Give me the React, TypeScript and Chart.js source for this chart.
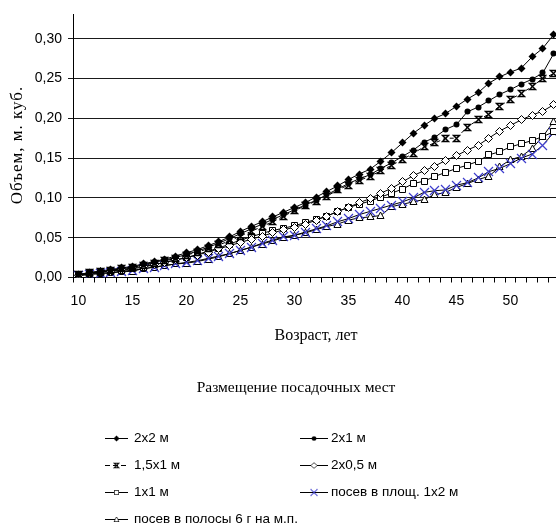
import React, { useEffect, useRef } from 'react';
import { Chart, registerables } from 'chart.js';

Chart.register(...registerables);

// ---- data ----
const years = [10, 11, 12, 13, 14, 15, 16, 17, 18, 19, 20, 21, 22, 23, 24, 25, 26, 27, 28, 29, 30, 31, 32, 33, 34, 35, 36, 37, 38, 39, 40, 41, 42, 43, 44, 45, 46, 47, 48, 49, 50, 51, 52, 53, 54];

const s2x2 = [0.004, 0.006, 0.008, 0.010, 0.012, 0.014, 0.017, 0.020, 0.023, 0.027, 0.031, 0.035, 0.040, 0.045, 0.051, 0.058, 0.064, 0.070, 0.076, 0.082, 0.088, 0.094, 0.101, 0.108, 0.115, 0.123, 0.130, 0.136, 0.146, 0.157, 0.169, 0.181, 0.191, 0.200, 0.206, 0.215, 0.224, 0.232, 0.244, 0.252, 0.258, 0.263, 0.277, 0.288, 0.305];
const s2x1 = [0.004, 0.005, 0.007, 0.009, 0.011, 0.013, 0.016, 0.019, 0.022, 0.025, 0.029, 0.033, 0.038, 0.043, 0.049, 0.055, 0.061, 0.067, 0.073, 0.079, 0.085, 0.091, 0.097, 0.104, 0.111, 0.118, 0.124, 0.129, 0.137, 0.144, 0.152, 0.160, 0.170, 0.176, 0.186, 0.192, 0.208, 0.214, 0.222, 0.230, 0.236, 0.243, 0.249, 0.257, 0.281];
const s15x1 = [0.004, 0.006, 0.008, 0.009, 0.011, 0.013, 0.015, 0.018, 0.021, 0.024, 0.028, 0.032, 0.036, 0.041, 0.046, 0.052, 0.058, 0.064, 0.070, 0.077, 0.084, 0.090, 0.096, 0.102, 0.110, 0.116, 0.122, 0.127, 0.134, 0.141, 0.148, 0.156, 0.164, 0.169, 0.175, 0.175, 0.189, 0.198, 0.205, 0.215, 0.224, 0.231, 0.240, 0.250, 0.256];
const s2x05 = [0.003, 0.005, 0.007, 0.008, 0.010, 0.012, 0.014, 0.016, 0.019, 0.022, 0.025, 0.028, 0.032, 0.036, 0.040, 0.044, 0.048, 0.052, 0.056, 0.060, 0.063, 0.067, 0.072, 0.077, 0.083, 0.088, 0.094, 0.099, 0.106, 0.112, 0.120, 0.128, 0.134, 0.140, 0.147, 0.153, 0.160, 0.166, 0.175, 0.184, 0.191, 0.198, 0.204, 0.209, 0.217];
const s1x1 = [0.003, 0.005, 0.006, 0.008, 0.009, 0.011, 0.013, 0.016, 0.019, 0.022, 0.025, 0.029, 0.033, 0.037, 0.042, 0.047, 0.051, 0.0555, 0.059, 0.062, 0.065, 0.069, 0.073, 0.077, 0.083, 0.088, 0.092, 0.096, 0.101, 0.106, 0.111, 0.118, 0.121, 0.127, 0.132, 0.137, 0.141, 0.146, 0.154, 0.158, 0.164, 0.168, 0.172, 0.177, 0.183];
const sPlot1x2 = [0.002, 0.004, 0.005, 0.006, 0.008, 0.009, 0.011, 0.013, 0.015, 0.017, 0.019, 0.021, 0.024, 0.027, 0.030, 0.034, 0.038, 0.043, 0.047, 0.051, 0.053, 0.057, 0.061, 0.065, 0.070, 0.074, 0.079, 0.083, 0.087, 0.091, 0.095, 0.100, 0.107, 0.109, 0.110, 0.116, 0.119, 0.125, 0.133, 0.137, 0.143, 0.150, 0.155, 0.166, 0.182];
const sStrip6g = [0.003, 0.004, 0.005, 0.006, 0.007, 0.008, 0.011, 0.013, 0.015, 0.017, 0.018, 0.020, 0.023, 0.026, 0.030, 0.034, 0.038, 0.042, 0.046, 0.050, 0.053, 0.056, 0.060, 0.064, 0.067, 0.072, 0.075, 0.076, 0.078, 0.089, 0.092, 0.095, 0.098, 0.104, 0.107, 0.113, 0.118, 0.123, 0.127, 0.139, 0.148, 0.152, 0.162, 0.177, 0.196];

const seriesLabels = ['2x2 м', '2x1 м', '1,5x1 м', '2x0,5 м', '1x1 м', 'посев в площ. 1x2 м', 'посев в полосы 6 г на м.п.'];
const yTitle = 'Объем, м. куб.';
const xTitle = 'Возраст, лет';
const legendTitle = 'Размещение посадочных мест';

const SANS = '"Liberation Sans", Arial, sans-serif';
const SERIF = '"Liberation Serif", "Times New Roman", serif';
const BLUE = '#3d3dcc';

// legend slot layout
const legendSlots = [
  { x: 105, y: 438, len: 23, tx: 134 },
  { x: 300, y: 438, len: 28, tx: 331 },
  { x: 105, y: 465, len: 23, tx: 134 },
  { x: 300, y: 465, len: 28, tx: 331 },
  { x: 105, y: 492, len: 23, tx: 134 },
  { x: 300, y: 492, len: 28, tx: 331 },
  { x: 105, y: 519, len: 23, tx: 134 },
];

function makeMarker(kind: string): HTMLCanvasElement {
  const size = kind === 'blueX' ? 11 : 9;
  const c = document.createElement('canvas');
  c.width = size;
  c.height = size;
  const g = c.getContext('2d') as CanvasRenderingContext2D;
  g.lineWidth = 1;
  g.strokeStyle = '#000';
  g.fillStyle = '#000';
  const m = size / 2;
  g.beginPath();
  switch (kind) {
    case 'filledDiamond':
      g.moveTo(m, m - 4); g.lineTo(m + 4, m); g.lineTo(m, m + 4); g.lineTo(m - 4, m); g.closePath();
      g.fill();
      break;
    case 'filledCircle':
      g.arc(m, m, 3, 0, Math.PI * 2);
      g.fill();
      break;
    case 'hourglass':
      g.moveTo(1.5, 1.5); g.lineTo(7.5, 1.5); g.lineTo(1.5, 7.5); g.lineTo(7.5, 7.5); g.closePath();
      g.lineWidth = 1.3;
      g.stroke();
      break;
    case 'openDiamond':
      g.moveTo(m, m - 4); g.lineTo(m + 4, m); g.lineTo(m, m + 4); g.lineTo(m - 4, m); g.closePath();
      g.fillStyle = '#fff'; g.fill(); g.stroke();
      break;
    case 'openSquare':
      g.rect(1.5, 1.5, 6, 6);
      g.fillStyle = '#fff'; g.fill(); g.stroke();
      break;
    case 'blueX':
      g.strokeStyle = BLUE;
      g.lineWidth = 1.2;
      g.moveTo(1, 1); g.lineTo(10, 10); g.moveTo(10, 1); g.lineTo(1, 10);
      g.stroke();
      break;
    case 'openTriangle':
      g.moveTo(4.5, 1); g.lineTo(8, 7.5); g.lineTo(1, 7.5); g.closePath();
      g.fillStyle = '#fff'; g.fill(); g.stroke();
      break;
  }
  return c;
}

const crispPlugin = {
  id: 'crispImages',
  beforeDatasetsDraw(chart: any) {
    chart.ctx.imageSmoothingEnabled = false;
  },
  afterDatasetsDraw(chart: any) {
    chart.ctx.imageSmoothingEnabled = true;
  },
};

const textPlugin = {
  id: 'textsAndLegend',
  afterDraw(chart: any) {
    const ctx = chart.ctx as CanvasRenderingContext2D;
    const area = chart.chartArea;
    ctx.save();
    ctx.imageSmoothingEnabled = true;
    ctx.fillStyle = '#000';

    // y title
    ctx.save();
    ctx.translate(18, 145);
    ctx.rotate(-Math.PI / 2);
    ctx.font = `17px ${SERIF}`;
    (ctx as any).letterSpacing = '1px';
    ctx.textAlign = 'center';
    ctx.textBaseline = 'middle';
    ctx.fillText(yTitle, 0, 0);
    ctx.restore();

    // x title
    ctx.font = `16px ${SERIF}`;
    ctx.textAlign = 'center';
    ctx.textBaseline = 'middle';
    ctx.fillText(xTitle, (area.left + area.right) / 2, 336);

    // legend title
    ctx.font = `15.5px ${SERIF}`;
    ctx.fillText(legendTitle, 296, 388);

    // legend items
    chart.data.datasets.forEach((ds: any, i: number) => {
      const s = legendSlots[i];
      if (!s) return;
      ctx.save();
      ctx.strokeStyle = '#000';
      ctx.lineWidth = 1;
      ctx.setLineDash(ds.borderDash && ds.borderDash.length ? [5, 3] : []);
      ctx.beginPath();
      ctx.moveTo(s.x, s.y + 0.5);
      ctx.lineTo(s.x + s.len, s.y + 0.5);
      ctx.stroke();
      ctx.restore();
      const img = ds.pointStyle as HTMLCanvasElement;
      const sc = 0.75;
      const w = img.width * sc;
      const h = img.height * sc;
      const cx = s.x + s.len / 2;
      ctx.drawImage(img, cx - w / 2, s.y + 0.5 - h / 2, w, h);
      ctx.font = `13.5px ${SANS}`;
      ctx.textAlign = 'left';
      ctx.textBaseline = 'middle';
      ctx.fillText(ds.label, s.tx, s.y);
    });
    ctx.restore();
  },
};

export default function App() {
  const ref = useRef<HTMLCanvasElement>(null);

  useEffect(() => {
    if (!ref.current) return;
    const kinds = ['filledDiamond', 'filledCircle', 'hourglass', 'openDiamond', 'openSquare', 'blueX', 'openTriangle'];
    const values = [s2x2, s2x1, s15x1, s2x05, s1x1, sPlot1x2, sStrip6g];
    const datasets = values.map((data, i) => ({
      label: seriesLabels[i],
      data,
      borderColor: '#000',
      backgroundColor: '#000',
      borderWidth: 1,
      borderDash: i === 2 ? [4, 3] : [],
      pointStyle: makeMarker(kinds[i]),
      pointRadius: 3,
      fill: false,
      tension: 0,
    }));

    const chart = new Chart(ref.current, {
      type: 'line',
      data: { labels: years.map(String), datasets },
      options: {
        responsive: false,
        animation: false,
        events: [],
        layout: { padding: { left: 0, top: 14.8, right: 6, bottom: 217.5 } },
        plugins: {
          legend: { display: false },
          tooltip: { enabled: false },
          title: { display: false },
        },
        scales: {
          x: {
            type: 'category',
            offset: true,
            grid: { display: true, drawOnChartArea: false, drawTicks: true, tickLength: 5, color: '#000', offset: true },
            border: { color: '#000', width: 1 },
            ticks: {
              autoSkip: false,
              maxRotation: 0,
              minRotation: 0,
              padding: 10,
              color: '#000',
              font: { family: SANS, size: 14 },
              callback: (_v: any, i: number) => (years[i] % 5 === 0 ? String(years[i]) : ''),
            },
            afterFit: (s: any) => { s.height = 30; },
          },
          y: {
            min: 0,
            max: 0.33,
            grid: { color: '#1a1a1a', tickLength: 5, lineWidth: 1 },
            border: { color: '#000', width: 1 },
            ticks: {
              stepSize: 0.05,
              includeBounds: false,
              padding: 6,
              color: '#000',
              font: { family: SANS, size: 14 },
              callback: (v: any) => Number(v).toFixed(2).replace('.', ','),
            },
            afterFit: (s: any) => { s.width = 73; },
          },
        },
      } as any,
      plugins: [crispPlugin, textPlugin],
    });
    return () => chart.destroy();
  }, []);

  return (
    <div style={{ position: 'absolute', left: 0, top: 0, width: 556, height: 525, overflow: 'hidden', background: '#fff' }}>
      <canvas ref={ref} width={565} height={525} style={{ display: 'block', width: 565, height: 525 }} />
    </div>
  );
}
